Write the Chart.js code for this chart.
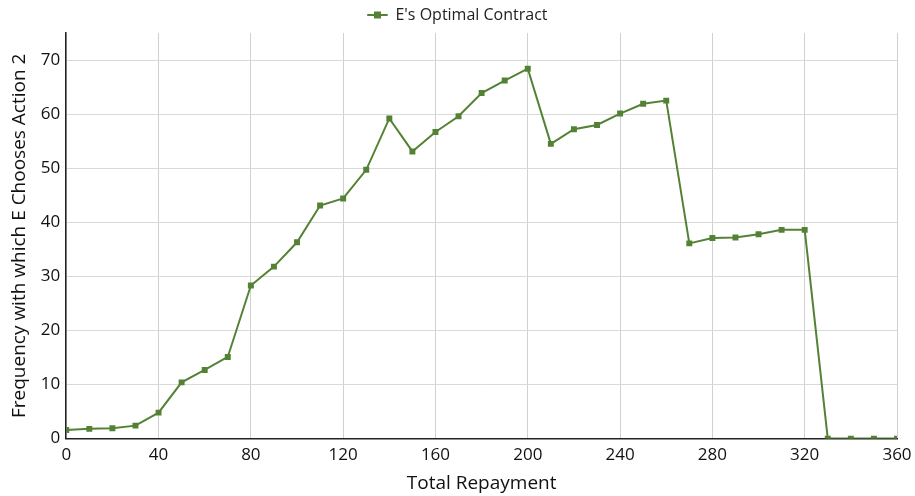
<!DOCTYPE html>
<html>
<head>
<meta charset="utf-8">
<script src="https://cdn.jsdelivr.net/npm/chart.js@4"></script>
<style>
  html, body { margin: 0; padding: 0; background: #fff; }
  .wrap { width: 915px; height: 496px; }
</style>
</head>
<body>
<div class="wrap"><canvas id="chart" width="915" height="496"></canvas></div>
<script>
const repayment = [0, 10, 20, 30, 40, 50, 60, 70, 80, 90, 100, 110, 120, 130, 140, 150, 160, 170, 180,
  190, 200, 210, 220, 230, 240, 250, 260, 270, 280, 290, 300, 310, 320, 330, 340, 350, 360];
const frequency = [1.6, 1.8, 1.9, 2.4, 4.8, 10.4, 12.7, 15.1, 28.3, 31.8, 36.3, 43.1, 44.4, 49.7, 59.2,
  53.1, 56.7, 59.6, 63.9, 66.2, 68.4, 54.5, 57.2, 58.0, 60.1, 61.9, 62.5, 36.1, 37.1, 37.2, 37.8,
  38.6, 38.6, 0, 0, 0, 0];
const xTicks = [0, 40, 80, 120, 160, 200, 240, 280, 320, 360];
const yTicks = [0, 10, 20, 30, 40, 50, 60, 70];

const green = "#548235";
const font = "'Open Sans', 'Liberation Sans', sans-serif";
Chart.defaults.font.family = font;
Chart.defaults.font.size = 15;
Chart.defaults.color = "#111";

// legend marker: line with a square through the middle, like the spreadsheet legend
const legendLine = {
  id: "legendLine",
  afterDraw(chart) {
    const items = chart.legend.legendHitBoxes;
    if (!items || !items.length) return;
    const b = items[0];
    const ctx = chart.ctx;
    const cy = b.top + b.height / 2;
    ctx.save();
    ctx.strokeStyle = green;
    ctx.fillStyle = green;
    ctx.lineWidth = 2;
    ctx.beginPath();
    ctx.moveTo(b.left, cy);
    ctx.lineTo(b.left + 20, cy);
    ctx.stroke();
    ctx.fillRect(b.left + 6.5, cy - 3.5, 7, 7);
    ctx.restore();
  },
};

new Chart(document.getElementById("chart"), {
  type: "line",
  data: {
    datasets: [{
      label: "E's Optimal Contract",
      data: repayment.map((x, i) => ({ x: x, y: frequency[i] })),
      borderColor: green,
      backgroundColor: green,
      borderWidth: 2,
      pointStyle: "rect",
      pointRadius: 4.2,
      pointBorderWidth: 0,
      tension: 0,
    }],
  },
  options: {
    responsive: false,
    animation: false,
    layout: { padding: { top: 0, right: 4, left: 4, bottom: 3 } },
    plugins: {
      legend: {
        labels: {
          font: { family: font, size: 16 },
          color: "#222",
          boxWidth: 20,
          boxHeight: 0,
          padding: 7,
        },
      },
      tooltip: { enabled: false },
    },
    scales: {
      x: {
        type: "linear",
        min: 0,
        max: 360,
        afterBuildTicks: (axis) => { axis.ticks = xTicks.map(v => ({ value: v })); },
        afterFit: (axis) => { axis.paddingRight = 18; },
        grid: { color: "#d0d0d0", drawTicks: false },
        border: { color: "#222", width: 1.5 },
        ticks: { font: { family: font, size: 17 }, color: "#111", padding: 6, maxRotation: 0 },
        title: { display: true, text: "Total Repayment", font: { family: font, size: 19, lineHeight: 1.0 }, color: "#111", padding: { top: 3, bottom: 0 } },
      },
      y: {
        min: 0,
        max: 75,
        afterBuildTicks: (axis) => { axis.ticks = yTicks.map(v => ({ value: v })); },
        grid: { color: "#d9d9d9", drawTicks: false },
        border: { color: "#222", width: 1.5 },
        ticks: { font: { family: font, size: 17 }, color: "#111", padding: 6 },
        title: { display: true, text: "Frequency with which E Chooses Action 2", font: { family: font, size: 19 }, color: "#111", padding: { bottom: 4 } },
      },
    },
  },
  plugins: [legendLine],
});
</script>
</body>
</html>
